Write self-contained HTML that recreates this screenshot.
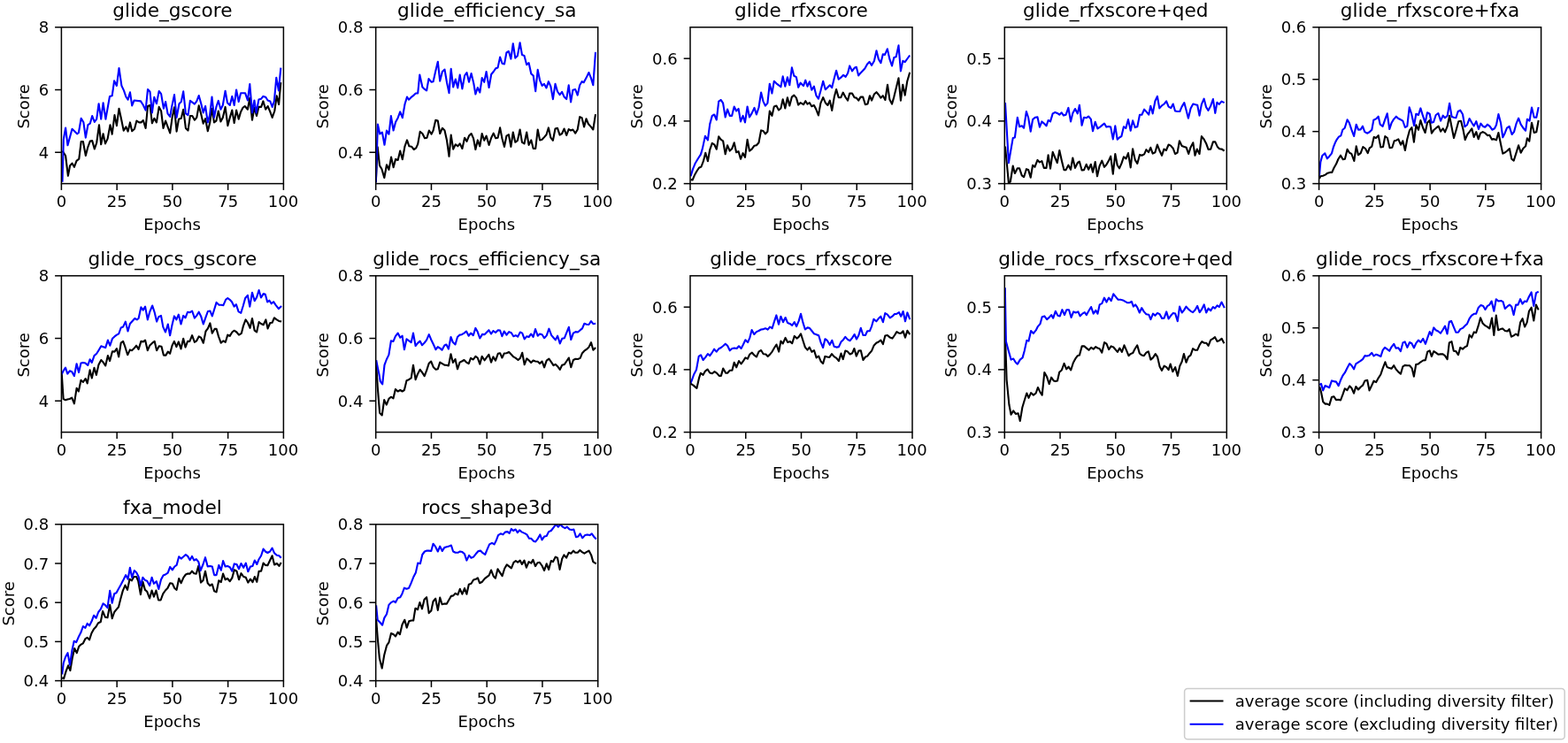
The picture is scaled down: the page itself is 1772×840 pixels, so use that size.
<!DOCTYPE html>
<html><head><meta charset="utf-8"><style>
html,body{margin:0;padding:0;background:#fff;}
body{width:1772px;height:840px;overflow:hidden;}
svg{display:block;font-family:"DejaVu Sans","Liberation Sans",sans-serif;fill:#000;}
</style></head><body>
<svg width="1772" height="840" viewBox="0 0 1772 840">
<rect width="1772" height="840" fill="#fff"/>
<clipPath id="c0"><rect x="69.40" y="30.80" width="251.00" height="176.80"/></clipPath>
<polyline clip-path="url(#c0)" points="70.5,170.7 74.1,176.2 76.9,198.8 79.1,187.3 81.5,184.6 83.9,188.8 86.5,181.8 89.3,179.6 91.7,160.0 93.9,160.0 96.8,175.9 99.4,166.1 101.8,159.6 104.2,159.1 106.8,168.5 109.2,161.5 112.0,141.2 114.2,163.3 116.6,151.3 119.0,162.4 121.6,156.9 124.5,141.2 126.7,151.7 129.5,130.1 131.9,142.1 134.5,122.7 137.3,135.7 139.7,147.6 142.4,143.4 144.6,148.6 147.0,138.4 149.2,148.2 152.0,145.8 154.4,136.6 157.2,138.4 159.4,138.4 161.8,136.0 164.6,144.9 167.0,120.0 169.5,119.0 171.9,139.3 174.3,133.8 176.9,138.4 179.7,120.9 182.1,125.5 184.5,144.9 187.1,136.6 192.2,150.4 194.6,132.9 197.0,121.3 199.6,148.6 202.0,134.7 204.8,133.8 207.2,123.7 209.9,144.9 212.5,147.6 214.9,131.0 217.3,131.0 219.9,135.7 222.3,132.9 224.7,119.4 227.3,129.2 229.7,139.7 232.1,134.2 234.8,148.2 237.1,139.3 239.5,122.7 242.0,138.4 244.4,136.6 246.8,125.5 249.4,137.5 251.8,132.9 254.6,120.9 257.4,142.1 259.8,132.9 262.3,124.6 264.7,139.0 267.1,124.6 269.7,134.7 272.1,126.4 274.5,121.8 276.7,120.0 279.9,123.7 282.3,110.7 285.0,135.7 287.4,121.8 290.0,131.0 292.4,120.9 295.2,120.9 297.4,114.4 300.2,123.7 302.6,120.0 305.3,126.4 307.7,132.9 310.3,125.5 312.7,108.3 315.1,118.1 317.3,93.2" fill="none" stroke="#000000" stroke-width="2.10" stroke-linejoin="round" stroke-linecap="butt"/>
<polyline clip-path="url(#c0)" points="70.5,205.8 71.8,157.8 74.1,144.5 76.5,164.3 81.5,145.8 87.1,151.3 88.9,150.0 91.7,133.8 94.4,138.4 96.8,155.6 99.4,141.2 101.8,139.7 104.2,131.0 106.8,137.9 109.2,134.7 111.6,117.2 114.2,134.7 116.6,116.3 119.4,134.7 124.0,108.9 126.7,108.3 129.1,91.4 131.9,96.9 134.5,77.0 137.4,96.9 140.0,102.4 142.4,109.5 144.6,112.6 147.0,104.3 149.2,119.4 151.6,113.5 159.0,114.4 161.8,118.7 164.6,124.6 167.0,101.0 169.5,103.7 171.9,127.4 174.3,109.8 176.9,117.2 179.7,103.0 182.1,106.1 184.9,122.7 187.1,115.0 189.5,128.3 192.2,132.0 194.1,120.9 197.0,107.1 199.6,132.9 202.5,117.2 204.8,115.0 207.2,103.4 209.9,128.3 212.5,130.1 214.9,113.9 217.3,115.7 219.9,117.6 222.3,114.4 224.7,108.0 227.3,117.2 229.7,127.4 232.1,120.0 234.8,138.4 237.1,130.1 239.5,109.5 242.0,132.9 244.4,120.9 246.8,113.9 249.4,123.7 251.8,119.0 254.6,102.8 257.0,116.3 259.8,119.0 262.3,108.9 264.7,119.0 267.1,101.5 269.7,115.0 272.1,105.2 274.9,105.2 277.1,105.2 279.9,113.5 282.3,95.1 285.0,127.4 287.4,113.5 289.6,127.4 292.4,112.6 295.2,111.7 297.4,108.9 300.2,109.8 302.6,113.5 305.3,114.4 307.7,120.9 309.9,114.4 312.3,87.7 314.9,102.4 317.3,76.6" fill="none" stroke="#0000ff" stroke-width="2.10" stroke-linejoin="round" stroke-linecap="butt"/>
<rect x="69.40" y="30.80" width="251.00" height="176.80" fill="none" stroke="#000" stroke-width="1.50" stroke-linejoin="miter"/>
<line x1="69.40" y1="207.60" x2="69.40" y2="214.90" stroke="#000" stroke-width="1.50"/>
<text x="63.69" y="234.20" font-size="18.0">0</text>
<line x1="132.15" y1="207.60" x2="132.15" y2="214.90" stroke="#000" stroke-width="1.50"/>
<text x="120.81" y="234.20" font-size="18.0">25</text>
<line x1="194.90" y1="207.60" x2="194.90" y2="214.90" stroke="#000" stroke-width="1.50"/>
<text x="183.38" y="234.20" font-size="18.0">50</text>
<line x1="257.65" y1="207.60" x2="257.65" y2="214.90" stroke="#000" stroke-width="1.50"/>
<text x="246.26" y="234.20" font-size="18.0">75</text>
<line x1="320.40" y1="207.60" x2="320.40" y2="214.90" stroke="#000" stroke-width="1.50"/>
<text x="302.80" y="234.20" font-size="18.0">100</text>
<line x1="62.10" y1="172.24" x2="69.40" y2="172.24" stroke="#000" stroke-width="1.50"/>
<text x="55.10" y="178.84" font-size="18.0" text-anchor="end">4</text>
<line x1="62.10" y1="101.52" x2="69.40" y2="101.52" stroke="#000" stroke-width="1.50"/>
<text x="55.10" y="108.12" font-size="18.0" text-anchor="end">6</text>
<line x1="62.10" y1="30.80" x2="69.40" y2="30.80" stroke="#000" stroke-width="1.50"/>
<text x="55.10" y="37.40" font-size="18.0" text-anchor="end">8</text>
<text x="194.55" y="260.00" font-size="18.0" text-anchor="middle">Epochs</text>
<text transform="translate(32.75,120.40) rotate(-90)" font-size="18.0" text-anchor="middle">Score</text>
<text x="194.90" y="18.60" font-size="21.6" text-anchor="middle">glide_gscore</text>
<clipPath id="c1"><rect x="424.70" y="30.80" width="251.00" height="176.80"/></clipPath>
<polyline clip-path="url(#c1)" points="424.8,206.2 426.7,166.2 429.0,187.1 431.4,191.0 434.3,201.0 437.0,186.2 439.5,191.9 442.1,177.6 444.6,189.1 447.1,179.9 449.7,180.9 452.2,170.6 454.8,180.3 457.5,165.3 460.0,158.4 462.4,165.3 465.1,165.7 467.7,169.0 470.2,167.4 472.2,162.9 474.7,148.9 477.4,151.0 480.0,156.3 482.5,155.7 484.9,147.5 487.6,151.6 489.6,147.5 492.3,135.8 494.8,136.6 497.2,151.0 499.9,144.8 502.5,147.5 505.0,158.8 507.5,176.8 509.7,152.6 512.2,168.6 514.8,163.3 517.3,165.3 519.7,162.4 522.4,168.0 525.1,155.7 527.5,159.8 530.0,153.6 532.6,151.0 535.1,156.7 537.4,169.0 539.8,158.4 542.3,165.3 544.7,151.0 547.2,158.8 549.6,153.6 552.6,163.9 555.2,155.7 557.7,150.6 560.2,156.3 562.6,155.7 565.1,144.4 567.5,156.7 570.0,165.9 572.4,153.6 574.9,152.2 577.4,165.9 579.8,149.5 582.3,160.8 584.9,158.8 587.6,146.5 590.0,160.8 592.5,162.4 595.2,149.5 597.6,163.9 600.3,158.4 602.7,168.0 605.2,168.0 607.7,146.5 610.1,158.4 612.6,157.7 615.0,155.1 617.5,152.2 619.9,144.4 622.4,155.7 624.9,158.8 627.5,145.5 630.0,144.8 632.6,152.6 635.1,151.0 637.6,145.5 640.2,153.0 642.7,146.1 645.1,147.5 647.4,146.5 650.2,150.6 652.7,146.5 655.2,132.1 657.6,133.2 660.1,143.4 662.5,134.2 665.0,140.3 667.9,143.4 670.3,146.5 673.0,129.1" fill="none" stroke="#000000" stroke-width="2.10" stroke-linejoin="round" stroke-linecap="butt"/>
<polyline clip-path="url(#c1)" points="424.8,206.2 426.9,140.5 429.3,151.4 431.9,149.5 434.5,163.8 437.0,147.5 439.5,151.6 441.9,131.1 444.6,147.5 447.1,137.9 449.7,133.2 452.2,126.4 454.8,133.2 457.5,117.8 460.0,109.6 462.0,112.7 465.1,109.6 467.7,107.6 469.8,105.5 472.2,105.5 474.3,84.6 477.4,98.4 480.0,101.0 482.1,102.5 484.5,89.1 487.6,92.8 489.6,92.2 492.1,81.0 494.8,69.7 497.2,91.6 499.9,81.0 502.5,78.5 505.0,93.2 507.5,105.1 509.7,77.9 512.2,98.4 514.8,89.6 517.3,99.4 519.7,84.6 522.4,100.4 525.1,85.5 527.5,82.0 530.0,92.8 532.6,83.0 535.3,94.3 537.4,106.5 539.8,99.0 542.3,104.5 544.7,88.1 547.2,92.8 549.6,81.0 552.6,99.0 555.2,84.0 557.7,81.0 560.2,77.3 562.6,76.4 565.1,64.6 567.5,71.7 570.0,72.4 572.4,59.5 574.9,58.0 577.4,66.6 579.8,49.2 582.3,65.6 584.9,62.9 587.6,48.2 590.0,62.1 592.5,62.9 595.2,73.2 597.6,71.1 600.3,83.4 602.7,85.5 605.2,103.1 607.7,78.9 610.1,90.8 612.6,96.9 615.0,94.9 617.5,99.4 619.9,92.2 622.4,97.7 624.9,112.1 627.5,94.9 630.0,103.5 632.6,107.2 635.1,103.9 637.6,109.6 640.2,112.1 642.7,96.3 645.1,115.4 647.4,101.8 650.2,101.0 652.7,107.6 655.2,96.3 657.6,92.2 659.7,93.2 662.5,88.1 665.4,82.0 667.9,88.1 670.3,96.3 673.0,58.8" fill="none" stroke="#0000ff" stroke-width="2.10" stroke-linejoin="round" stroke-linecap="butt"/>
<rect x="424.70" y="30.80" width="251.00" height="176.80" fill="none" stroke="#000" stroke-width="1.50" stroke-linejoin="miter"/>
<line x1="424.70" y1="207.60" x2="424.70" y2="214.90" stroke="#000" stroke-width="1.50"/>
<text x="418.99" y="234.20" font-size="18.0">0</text>
<line x1="487.45" y1="207.60" x2="487.45" y2="214.90" stroke="#000" stroke-width="1.50"/>
<text x="476.11" y="234.20" font-size="18.0">25</text>
<line x1="550.20" y1="207.60" x2="550.20" y2="214.90" stroke="#000" stroke-width="1.50"/>
<text x="538.68" y="234.20" font-size="18.0">50</text>
<line x1="612.95" y1="207.60" x2="612.95" y2="214.90" stroke="#000" stroke-width="1.50"/>
<text x="601.57" y="234.20" font-size="18.0">75</text>
<line x1="675.70" y1="207.60" x2="675.70" y2="214.90" stroke="#000" stroke-width="1.50"/>
<text x="658.11" y="234.20" font-size="18.0">100</text>
<line x1="417.40" y1="172.24" x2="424.70" y2="172.24" stroke="#000" stroke-width="1.50"/>
<text x="410.40" y="178.84" font-size="18.0" text-anchor="end">0.4</text>
<line x1="417.40" y1="101.52" x2="424.70" y2="101.52" stroke="#000" stroke-width="1.50"/>
<text x="410.40" y="108.12" font-size="18.0" text-anchor="end">0.6</text>
<line x1="417.40" y1="30.80" x2="424.70" y2="30.80" stroke="#000" stroke-width="1.50"/>
<text x="410.40" y="37.40" font-size="18.0" text-anchor="end">0.8</text>
<text x="549.85" y="260.00" font-size="18.0" text-anchor="middle">Epochs</text>
<text transform="translate(370.88,120.40) rotate(-90)" font-size="18.0" text-anchor="middle">Score</text>
<text x="550.20" y="18.60" font-size="21.6" text-anchor="middle">glide_efficiency_sa</text>
<clipPath id="c2"><rect x="780.00" y="30.80" width="251.00" height="176.80"/></clipPath>
<polyline clip-path="url(#c2)" points="780.6,203.1 782.6,203.5 784.9,198.1 787.3,193.7 789.9,189.7 792.5,188.5 794.9,182.2 797.3,172.8 799.9,182.2 802.2,169.3 804.8,161.9 807.2,163.3 809.8,168.7 812.2,154.3 814.8,157.9 817.1,159.3 819.7,174.2 822.1,164.3 824.7,170.6 827.1,168.3 829.7,161.3 832.1,172.2 834.6,171.2 837.0,179.8 839.6,173.2 842.0,177.8 844.6,157.9 847.0,170.6 849.6,168.7 852.5,164.7 854.9,164.3 857.5,161.3 860.1,147.4 862.5,148.0 864.9,151.4 867.4,148.8 869.8,125.5 872.4,130.9 874.8,120.5 877.4,119.6 880.0,124.5 882.4,122.5 884.7,112.2 887.3,122.5 889.9,110.2 892.3,119.6 894.9,109.6 897.3,107.6 899.9,110.6 902.2,118.6 904.6,116.2 908.0,118.2 910.3,114.2 912.5,117.6 914.9,116.2 917.3,120.2 919.9,119.0 922.5,124.1 924.9,130.5 927.4,116.6 930.2,110.2 932.8,116.2 935.4,119.0 937.8,113.6 940.2,124.9 942.8,109.6 945.1,101.1 947.7,110.2 950.3,110.2 952.7,104.6 955.3,109.6 958.1,113.6 960.2,105.6 963.0,105.6 965.6,110.2 967.8,110.6 970.2,113.6 972.6,109.6 975.2,109.6 977.9,118.2 980.5,117.6 982.9,108.2 985.1,113.6 987.9,106.6 990.5,104.2 992.9,107.0 995.4,110.6 997.8,108.2 1000.4,113.0 1003.0,95.7 1005.4,112.6 1008.0,117.6 1010.3,109.6 1012.7,99.7 1015.5,88.3 1017.9,113.6 1020.3,95.7 1022.7,107.6 1025.3,91.7 1028.2,81.8" fill="none" stroke="#000000" stroke-width="2.10" stroke-linejoin="round" stroke-linecap="butt"/>
<polyline clip-path="url(#c2)" points="780.6,199.1 783.0,191.1 785.9,184.2 788.9,179.2 791.9,174.6 793.9,167.9 796.9,153.9 799.9,158.3 802.2,140.4 804.8,130.9 807.2,129.5 809.8,135.5 812.2,114.6 814.8,113.0 817.1,116.6 819.7,132.5 822.1,123.5 824.7,130.9 827.1,130.9 829.7,120.5 832.1,125.5 834.6,122.9 837.0,137.4 839.6,130.9 842.0,138.4 844.6,120.5 847.0,132.5 849.6,128.1 852.5,121.9 854.9,129.5 857.5,121.5 860.1,104.6 862.5,114.6 864.9,119.6 867.4,116.6 869.8,94.7 872.4,105.6 874.8,91.7 877.4,94.3 880.0,96.3 882.4,98.3 884.7,86.4 887.3,97.7 889.9,87.3 892.3,96.3 894.9,76.4 897.3,85.8 899.9,87.1 902.2,98.7 904.6,93.7 908.0,97.1 910.3,90.7 912.5,97.7 914.9,92.3 917.3,101.7 919.9,97.7 922.5,108.2 924.9,111.6 927.4,102.7 930.2,91.7 932.8,101.3 935.4,98.7 937.8,96.3 940.2,99.1 942.8,88.3 945.1,79.8 947.7,89.7 950.3,87.7 953.1,84.8 955.7,86.8 958.1,82.8 960.2,74.4 963.0,80.4 965.6,76.8 967.8,75.8 970.2,85.4 972.6,82.4 975.2,79.8 977.5,77.2 980.1,72.4 982.5,69.9 985.1,73.8 987.9,68.9 990.5,57.3 992.9,66.9 995.4,71.2 997.8,61.3 1000.0,61.9 1002.8,55.3 1005.4,66.9 1008.0,74.4 1010.3,64.9 1012.7,64.3 1015.5,51.4 1017.9,80.4 1020.3,68.9 1022.7,70.2 1025.3,66.5 1028.2,62.5" fill="none" stroke="#0000ff" stroke-width="2.10" stroke-linejoin="round" stroke-linecap="butt"/>
<rect x="780.00" y="30.80" width="251.00" height="176.80" fill="none" stroke="#000" stroke-width="1.50" stroke-linejoin="miter"/>
<line x1="780.00" y1="207.60" x2="780.00" y2="214.90" stroke="#000" stroke-width="1.50"/>
<text x="774.28" y="234.20" font-size="18.0">0</text>
<line x1="842.75" y1="207.60" x2="842.75" y2="214.90" stroke="#000" stroke-width="1.50"/>
<text x="831.41" y="234.20" font-size="18.0">25</text>
<line x1="905.50" y1="207.60" x2="905.50" y2="214.90" stroke="#000" stroke-width="1.50"/>
<text x="893.98" y="234.20" font-size="18.0">50</text>
<line x1="968.25" y1="207.60" x2="968.25" y2="214.90" stroke="#000" stroke-width="1.50"/>
<text x="956.87" y="234.20" font-size="18.0">75</text>
<line x1="1031.00" y1="207.60" x2="1031.00" y2="214.90" stroke="#000" stroke-width="1.50"/>
<text x="1013.40" y="234.20" font-size="18.0">100</text>
<line x1="772.70" y1="207.60" x2="780.00" y2="207.60" stroke="#000" stroke-width="1.50"/>
<text x="765.70" y="214.20" font-size="18.0" text-anchor="end">0.2</text>
<line x1="772.70" y1="136.88" x2="780.00" y2="136.88" stroke="#000" stroke-width="1.50"/>
<text x="765.70" y="143.48" font-size="18.0" text-anchor="end">0.4</text>
<line x1="772.70" y1="66.16" x2="780.00" y2="66.16" stroke="#000" stroke-width="1.50"/>
<text x="765.70" y="72.76" font-size="18.0" text-anchor="end">0.6</text>
<text x="905.15" y="260.00" font-size="18.0" text-anchor="middle">Epochs</text>
<text transform="translate(726.18,120.40) rotate(-90)" font-size="18.0" text-anchor="middle">Score</text>
<text x="905.50" y="18.60" font-size="21.6" text-anchor="middle">glide_rfxscore</text>
<clipPath id="c3"><rect x="1135.30" y="30.80" width="251.00" height="176.80"/></clipPath>
<polyline clip-path="url(#c3)" points="1136.0,165.5 1139.9,206.9 1141.8,205.5 1144.7,187.6 1146.9,196.0 1149.8,190.2 1152.1,190.3 1154.8,198.4 1157.1,200.2 1159.9,191.2 1162.2,192.1 1164.7,200.8 1167.1,186.7 1169.4,188.8 1172.5,180.9 1174.9,183.4 1177.4,182.1 1179.8,189.9 1182.5,189.9 1184.6,175.4 1187.0,190.6 1189.7,171.8 1192.4,178.5 1194.8,184.0 1197.3,170.0 1199.7,180.9 1202.4,192.1 1204.6,192.1 1207.4,186.7 1210.0,191.7 1212.3,178.5 1215.0,189.9 1217.8,184.0 1219.9,182.7 1222.6,192.5 1225.0,192.1 1227.7,185.8 1230.1,191.7 1232.8,185.8 1235.0,194.8 1237.7,183.0 1240.0,199.3 1242.6,187.6 1245.3,181.6 1248.0,188.8 1250.3,186.3 1253.0,181.6 1255.2,176.7 1257.8,196.6 1260.3,174.0 1262.7,186.7 1265.0,190.3 1267.4,184.9 1269.9,177.3 1272.6,179.4 1275.0,173.1 1277.7,189.4 1280.1,168.2 1282.8,180.9 1285.3,184.9 1288.0,174.9 1290.4,175.8 1293.1,174.4 1295.4,169.1 1298.0,172.2 1300.3,166.8 1302.7,173.6 1305.4,172.2 1307.9,163.5 1310.3,170.0 1313.0,175.8 1315.4,168.6 1317.9,170.0 1320.6,163.5 1323.0,164.6 1325.7,167.7 1328.0,174.0 1330.6,172.6 1332.9,159.2 1335.6,165.0 1338.3,165.9 1340.7,166.8 1343.2,174.0 1345.6,166.4 1348.3,161.3 1350.5,175.8 1352.8,168.6 1355.5,174.0 1357.9,154.1 1360.6,157.4 1363.1,162.2 1365.5,168.9 1368.2,168.6 1370.9,160.4 1373.3,160.4 1375.8,165.9 1378.1,168.2 1380.9,168.6 1383.6,170.7" fill="none" stroke="#000000" stroke-width="2.10" stroke-linejoin="round" stroke-linecap="butt"/>
<polyline clip-path="url(#c3)" points="1136.0,116.1 1139.9,184.1 1144.7,156.1 1146.9,155.4 1149.8,132.8 1152.1,143.2 1154.8,142.3 1157.1,144.7 1159.9,126.0 1162.2,133.3 1164.7,148.7 1167.1,135.1 1169.8,132.7 1172.5,132.4 1174.9,143.6 1177.4,137.4 1179.8,139.6 1182.5,142.3 1184.6,136.0 1187.0,137.4 1189.7,128.4 1192.4,127.0 1194.8,127.9 1197.3,129.7 1199.7,127.3 1202.0,130.6 1204.6,129.7 1207.4,121.9 1210.0,137.4 1212.3,127.9 1215.0,123.0 1217.8,128.4 1219.9,118.8 1222.6,141.8 1225.0,132.7 1227.7,133.3 1230.1,131.5 1232.8,134.6 1235.0,148.3 1237.7,137.8 1240.4,145.4 1243.1,143.6 1245.8,141.4 1248.0,139.6 1250.3,143.6 1253.0,142.9 1255.2,143.6 1257.8,157.4 1260.3,142.3 1262.7,157.7 1265.0,155.5 1267.4,154.1 1269.9,143.2 1272.3,145.0 1275.0,135.1 1277.7,147.8 1280.1,136.4 1282.8,144.1 1285.3,143.2 1288.0,129.7 1290.4,129.7 1293.1,123.7 1295.8,126.6 1298.2,129.7 1300.3,119.7 1302.7,128.4 1305.4,114.3 1307.9,108.9 1310.3,122.4 1313.0,119.4 1315.7,117.5 1318.1,114.3 1320.6,120.6 1323.3,122.1 1325.7,117.5 1328.0,125.5 1330.6,126.0 1333.3,126.0 1335.6,120.6 1338.3,116.1 1340.7,125.1 1342.9,133.8 1345.6,122.4 1348.3,117.5 1351.0,118.3 1353.2,118.8 1355.5,130.6 1357.9,117.9 1360.6,111.6 1363.1,121.2 1365.5,124.8 1368.2,119.7 1370.9,112.1 1373.3,127.9 1375.4,115.7 1377.8,117.9 1380.5,114.6 1383.6,116.1" fill="none" stroke="#0000ff" stroke-width="2.10" stroke-linejoin="round" stroke-linecap="butt"/>
<rect x="1135.30" y="30.80" width="251.00" height="176.80" fill="none" stroke="#000" stroke-width="1.50" stroke-linejoin="miter"/>
<line x1="1135.30" y1="207.60" x2="1135.30" y2="214.90" stroke="#000" stroke-width="1.50"/>
<text x="1129.59" y="234.20" font-size="18.0">0</text>
<line x1="1198.05" y1="207.60" x2="1198.05" y2="214.90" stroke="#000" stroke-width="1.50"/>
<text x="1186.71" y="234.20" font-size="18.0">25</text>
<line x1="1260.80" y1="207.60" x2="1260.80" y2="214.90" stroke="#000" stroke-width="1.50"/>
<text x="1249.28" y="234.20" font-size="18.0">50</text>
<line x1="1323.55" y1="207.60" x2="1323.55" y2="214.90" stroke="#000" stroke-width="1.50"/>
<text x="1312.17" y="234.20" font-size="18.0">75</text>
<line x1="1386.30" y1="207.60" x2="1386.30" y2="214.90" stroke="#000" stroke-width="1.50"/>
<text x="1368.71" y="234.20" font-size="18.0">100</text>
<line x1="1128.00" y1="207.60" x2="1135.30" y2="207.60" stroke="#000" stroke-width="1.50"/>
<text x="1121.00" y="214.20" font-size="18.0" text-anchor="end">0.3</text>
<line x1="1128.00" y1="136.88" x2="1135.30" y2="136.88" stroke="#000" stroke-width="1.50"/>
<text x="1121.00" y="143.48" font-size="18.0" text-anchor="end">0.4</text>
<line x1="1128.00" y1="66.16" x2="1135.30" y2="66.16" stroke="#000" stroke-width="1.50"/>
<text x="1121.00" y="72.76" font-size="18.0" text-anchor="end">0.5</text>
<text x="1260.45" y="260.00" font-size="18.0" text-anchor="middle">Epochs</text>
<text transform="translate(1081.48,120.40) rotate(-90)" font-size="18.0" text-anchor="middle">Score</text>
<text x="1260.80" y="18.60" font-size="21.6" text-anchor="middle">glide_rfxscore+qed</text>
<clipPath id="c4"><rect x="1490.60" y="30.80" width="251.00" height="176.80"/></clipPath>
<polyline clip-path="url(#c4)" points="1491.0,202.0 1492.3,199.3 1495.0,198.7 1497.7,197.6 1500.3,195.7 1503.0,194.9 1505.3,194.9 1507.4,190.0 1510.1,185.3 1512.3,180.0 1515.0,175.7 1517.7,180.3 1519.9,179.7 1522.6,168.7 1525.0,172.7 1527.4,174.0 1530.3,182.0 1532.7,165.3 1535.0,175.3 1537.7,173.1 1540.3,166.0 1543.0,168.0 1545.7,173.1 1547.7,167.3 1550.3,165.6 1552.7,154.9 1555.0,156.0 1557.7,153.1 1560.3,166.4 1563.0,166.0 1565.3,154.0 1567.9,156.0 1570.6,167.3 1573.3,166.7 1575.7,159.3 1577.9,158.7 1580.3,157.3 1583.0,163.7 1585.3,159.3 1587.9,170.0 1590.3,157.3 1593.0,147.3 1595.4,144.0 1597.9,160.7 1600.3,141.3 1603.0,146.7 1605.4,136.0 1607.9,144.0 1610.6,150.0 1613.0,138.7 1615.7,136.0 1617.9,150.7 1620.6,146.7 1623.0,144.7 1625.7,142.7 1628.1,148.7 1630.7,145.3 1633.0,149.3 1635.7,142.7 1638.1,130.9 1640.6,144.0 1643.0,156.0 1645.7,146.7 1648.3,137.3 1651.0,136.7 1653.4,146.0 1655.7,158.0 1658.3,152.0 1661.0,148.7 1663.3,145.3 1665.7,154.9 1668.3,149.1 1670.7,157.3 1673.0,150.7 1675.7,149.1 1678.3,150.4 1681.0,153.1 1683.3,152.7 1685.9,157.6 1688.3,157.1 1691.0,158.4 1693.4,150.0 1696.1,163.3 1698.3,173.6 1701.0,172.3 1703.0,170.7 1705.9,168.0 1708.3,179.7 1710.7,181.6 1713.4,173.1 1716.1,164.3 1718.7,172.7 1721.4,167.7 1724.1,165.3 1725.9,156.3 1728.3,159.7 1731.0,138.7 1733.7,150.0 1736.3,149.3 1738.7,136.0" fill="none" stroke="#000000" stroke-width="2.10" stroke-linejoin="round" stroke-linecap="butt"/>
<polyline clip-path="url(#c4)" points="1491.0,198.7 1492.3,183.3 1494.3,176.0 1497.3,173.3 1499.9,179.3 1502.3,176.7 1505.0,173.3 1507.0,166.0 1509.0,161.1 1511.0,157.3 1513.0,154.7 1515.4,153.3 1517.3,146.7 1519.7,144.7 1522.6,135.3 1524.7,138.7 1527.4,146.7 1530.1,154.0 1532.7,140.7 1535.0,146.7 1537.7,146.4 1539.9,142.7 1542.3,149.1 1545.0,150.7 1547.7,149.3 1550.3,146.7 1552.3,135.7 1555.0,134.4 1557.7,131.7 1559.7,140.7 1562.6,142.9 1565.3,134.9 1567.7,128.3 1570.3,146.0 1572.7,138.7 1575.0,134.9 1577.9,131.7 1580.3,134.0 1583.0,135.3 1585.3,136.7 1587.9,144.0 1590.3,142.7 1592.7,121.3 1595.0,128.3 1598.1,142.0 1600.3,128.7 1603.0,130.0 1605.4,122.4 1607.9,130.7 1610.6,138.7 1613.0,127.3 1615.7,128.7 1617.7,138.7 1620.1,138.0 1622.7,130.0 1625.4,128.0 1628.1,136.7 1630.7,130.7 1633.0,133.3 1635.7,130.9 1638.1,116.7 1640.6,132.0 1643.0,132.7 1645.4,133.3 1647.7,126.0 1650.3,124.7 1653.0,129.3 1655.4,143.3 1657.9,141.3 1660.6,134.0 1663.3,138.7 1665.7,142.4 1668.3,137.1 1671.0,146.0 1673.4,139.7 1676.1,142.9 1678.3,143.7 1681.0,140.7 1683.7,142.9 1686.3,146.7 1689.0,145.3 1691.0,141.3 1693.4,129.1 1696.1,139.3 1698.3,155.3 1700.6,150.7 1703.0,144.7 1705.7,142.9 1708.6,152.0 1711.0,149.1 1713.7,139.3 1716.1,133.6 1718.7,140.7 1721.4,144.7 1724.1,147.7 1725.9,134.7 1728.6,136.7 1731.0,121.6 1733.7,132.7 1736.3,132.7 1738.7,121.1" fill="none" stroke="#0000ff" stroke-width="2.10" stroke-linejoin="round" stroke-linecap="butt"/>
<rect x="1490.60" y="30.80" width="251.00" height="176.80" fill="none" stroke="#000" stroke-width="1.50" stroke-linejoin="miter"/>
<line x1="1490.60" y1="207.60" x2="1490.60" y2="214.90" stroke="#000" stroke-width="1.50"/>
<text x="1484.89" y="234.20" font-size="18.0">0</text>
<line x1="1553.35" y1="207.60" x2="1553.35" y2="214.90" stroke="#000" stroke-width="1.50"/>
<text x="1542.01" y="234.20" font-size="18.0">25</text>
<line x1="1616.10" y1="207.60" x2="1616.10" y2="214.90" stroke="#000" stroke-width="1.50"/>
<text x="1604.58" y="234.20" font-size="18.0">50</text>
<line x1="1678.85" y1="207.60" x2="1678.85" y2="214.90" stroke="#000" stroke-width="1.50"/>
<text x="1667.47" y="234.20" font-size="18.0">75</text>
<line x1="1741.60" y1="207.60" x2="1741.60" y2="214.90" stroke="#000" stroke-width="1.50"/>
<text x="1724.01" y="234.20" font-size="18.0">100</text>
<line x1="1483.30" y1="207.60" x2="1490.60" y2="207.60" stroke="#000" stroke-width="1.50"/>
<text x="1476.30" y="214.20" font-size="18.0" text-anchor="end">0.3</text>
<line x1="1483.30" y1="148.67" x2="1490.60" y2="148.67" stroke="#000" stroke-width="1.50"/>
<text x="1476.30" y="155.27" font-size="18.0" text-anchor="end">0.4</text>
<line x1="1483.30" y1="89.73" x2="1490.60" y2="89.73" stroke="#000" stroke-width="1.50"/>
<text x="1476.30" y="96.33" font-size="18.0" text-anchor="end">0.5</text>
<line x1="1483.30" y1="30.80" x2="1490.60" y2="30.80" stroke="#000" stroke-width="1.50"/>
<text x="1476.30" y="37.40" font-size="18.0" text-anchor="end">0.6</text>
<text x="1615.75" y="260.00" font-size="18.0" text-anchor="middle">Epochs</text>
<text transform="translate(1436.78,120.40) rotate(-90)" font-size="18.0" text-anchor="middle">Score</text>
<text x="1616.10" y="18.60" font-size="21.6" text-anchor="middle">glide_rfxscore+fxa</text>
<clipPath id="c5"><rect x="69.40" y="311.80" width="251.00" height="176.80"/></clipPath>
<polyline clip-path="url(#c5)" points="69.8,423.0 71.6,451.0 74.0,452.3 76.3,451.5 78.8,451.0 81.2,449.7 83.9,456.4 86.6,438.9 88.8,442.5 91.5,429.8 93.9,432.0 96.6,428.0 98.7,433.4 101.6,418.4 103.8,427.5 106.5,415.7 108.9,423.9 111.4,412.5 114.3,407.0 116.5,409.4 119.2,413.5 121.9,402.1 124.1,408.1 127.0,397.3 129.5,397.6 131.9,394.0 134.2,403.4 136.7,387.7 139.1,385.9 141.4,392.2 144.2,401.2 146.9,395.4 149.0,396.2 151.8,393.6 154.1,390.7 156.6,394.9 159.4,385.9 161.7,386.4 164.1,384.6 166.8,396.2 169.3,390.4 172.2,387.7 174.7,385.9 177.1,396.2 179.8,391.3 182.5,391.8 184.9,401.6 187.4,401.6 189.8,397.6 192.1,399.8 194.6,390.4 196.9,385.9 199.4,392.2 201.8,386.4 204.5,394.4 207.2,382.8 209.5,392.6 212.1,385.9 214.4,385.9 217.1,379.2 219.9,386.8 222.2,385.3 224.7,380.4 227.1,381.7 229.8,387.7 232.5,374.5 234.9,371.4 237.4,365.4 239.8,376.8 242.5,371.9 244.6,371.9 247.0,380.4 249.7,387.7 252.4,385.3 254.8,386.8 257.3,378.6 259.7,379.9 262.4,375.5 264.6,373.7 267.4,375.5 270.0,378.6 272.9,376.8 275.0,368.3 277.6,361.4 280.1,365.0 282.6,370.8 285.0,360.0 287.7,373.7 290.1,375.5 292.6,364.1 295.0,366.0 297.7,367.2 300.4,361.4 302.6,371.4 305.3,365.0 307.6,364.7 310.0,359.3 312.7,361.4 315.2,362.9 318.1,363.6" fill="none" stroke="#000000" stroke-width="2.10" stroke-linejoin="round" stroke-linecap="butt"/>
<polyline clip-path="url(#c5)" points="69.8,423.0 71.6,419.3 74.0,415.7 76.3,422.6 78.8,419.3 81.2,420.2 83.9,425.1 86.6,411.2 89.0,421.1 91.5,410.6 93.9,409.9 96.6,410.6 99.3,413.0 101.6,406.3 103.8,409.9 106.5,402.1 109.2,399.8 111.4,396.2 114.3,391.3 116.8,392.2 119.2,393.1 121.9,384.6 124.3,390.7 127.0,382.8 129.5,380.4 131.9,378.6 134.2,377.4 136.7,370.5 139.1,369.6 141.8,363.6 144.5,374.5 146.9,366.0 149.4,363.2 152.3,360.0 154.8,361.4 156.6,360.0 159.4,347.3 161.7,350.6 164.1,346.6 166.8,361.4 169.3,352.4 172.2,345.5 174.7,353.3 177.1,363.6 179.3,358.2 182.0,356.9 184.3,369.6 187.0,375.5 189.8,366.5 192.1,379.2 194.6,366.9 196.9,357.4 199.4,361.4 201.8,355.6 204.5,366.5 207.2,356.9 209.5,359.3 212.1,352.7 214.4,353.3 217.1,351.5 219.9,359.6 222.2,356.9 224.7,352.7 227.1,357.4 229.8,366.5 232.5,358.7 234.9,352.0 237.4,351.5 239.8,357.4 242.5,348.8 244.6,341.9 247.5,344.8 250.1,344.8 252.4,345.1 255.1,338.8 257.3,337.0 259.7,338.8 262.0,341.2 264.6,346.6 266.9,344.2 269.6,352.4 272.3,353.8 274.7,346.0 277.2,337.0 279.9,333.9 282.3,346.6 285.0,330.7 287.7,340.1 290.1,336.1 292.6,328.0 295.0,336.5 297.7,332.1 299.8,332.8 302.2,341.5 304.4,339.7 306.7,343.3 309.1,341.2 311.6,344.8 314.9,349.1 318.1,346.0" fill="none" stroke="#0000ff" stroke-width="2.10" stroke-linejoin="round" stroke-linecap="butt"/>
<rect x="69.40" y="311.80" width="251.00" height="176.80" fill="none" stroke="#000" stroke-width="1.50" stroke-linejoin="miter"/>
<line x1="69.40" y1="488.60" x2="69.40" y2="495.90" stroke="#000" stroke-width="1.50"/>
<text x="63.69" y="515.20" font-size="18.0">0</text>
<line x1="132.15" y1="488.60" x2="132.15" y2="495.90" stroke="#000" stroke-width="1.50"/>
<text x="120.81" y="515.20" font-size="18.0">25</text>
<line x1="194.90" y1="488.60" x2="194.90" y2="495.90" stroke="#000" stroke-width="1.50"/>
<text x="183.38" y="515.20" font-size="18.0">50</text>
<line x1="257.65" y1="488.60" x2="257.65" y2="495.90" stroke="#000" stroke-width="1.50"/>
<text x="246.26" y="515.20" font-size="18.0">75</text>
<line x1="320.40" y1="488.60" x2="320.40" y2="495.90" stroke="#000" stroke-width="1.50"/>
<text x="302.80" y="515.20" font-size="18.0">100</text>
<line x1="62.10" y1="453.24" x2="69.40" y2="453.24" stroke="#000" stroke-width="1.50"/>
<text x="55.10" y="459.84" font-size="18.0" text-anchor="end">4</text>
<line x1="62.10" y1="382.52" x2="69.40" y2="382.52" stroke="#000" stroke-width="1.50"/>
<text x="55.10" y="389.12" font-size="18.0" text-anchor="end">6</text>
<line x1="62.10" y1="311.80" x2="69.40" y2="311.80" stroke="#000" stroke-width="1.50"/>
<text x="55.10" y="318.40" font-size="18.0" text-anchor="end">8</text>
<text x="194.55" y="541.00" font-size="18.0" text-anchor="middle">Epochs</text>
<text transform="translate(32.75,401.40) rotate(-90)" font-size="18.0" text-anchor="middle">Score</text>
<text x="194.90" y="299.60" font-size="21.6" text-anchor="middle">glide_rocs_gscore</text>
<clipPath id="c6"><rect x="424.70" y="311.80" width="251.00" height="176.80"/></clipPath>
<polyline clip-path="url(#c6)" points="425.2,411.9 426.7,436.7 429.1,466.8 431.7,469.5 434.2,452.1 436.8,457.6 439.4,450.9 441.9,448.7 444.5,450.3 446.9,440.1 449.6,442.5 452.3,441.0 454.6,442.5 456.9,441.0 459.5,430.2 462.0,429.2 464.7,427.4 467.0,412.7 469.6,429.2 472.1,422.7 474.7,417.8 477.0,420.9 479.7,425.1 482.1,418.9 484.8,410.7 487.1,408.5 489.9,415.3 492.5,417.8 494.8,417.3 497.2,409.6 499.8,411.1 502.3,412.7 504.4,412.7 506.9,413.5 509.5,400.3 511.9,410.0 514.5,406.0 517.0,417.3 519.6,409.6 521.9,408.5 524.5,407.0 527.0,409.6 529.7,411.1 532.0,404.9 534.8,406.5 537.4,402.9 539.7,404.5 542.3,411.6 544.7,402.9 547.5,407.3 552.4,400.8 555.1,409.6 557.4,403.4 560.0,407.6 562.8,399.8 565.1,399.2 567.4,404.5 569.8,399.5 572.5,399.2 575.2,398.0 577.8,400.8 580.3,403.4 582.9,404.9 585.5,407.0 587.9,404.9 590.2,398.8 592.7,412.2 595.3,405.4 597.6,407.3 600.2,410.0 602.6,407.6 605.0,408.5 607.7,408.8 610.0,411.1 612.6,408.5 615.1,415.3 617.7,407.6 620.4,405.7 623.2,409.6 625.5,413.1 627.8,411.9 630.1,414.2 632.8,417.8 635.2,412.7 637.9,411.9 640.2,408.5 642.8,404.5 645.3,415.3 647.9,407.0 650.5,405.7 653.0,406.0 655.7,404.9 658.0,399.2 660.3,396.7 662.9,394.9 665.4,392.6 668.0,387.1 670.4,395.7 673.1,393.0" fill="none" stroke="#000000" stroke-width="2.10" stroke-linejoin="round" stroke-linecap="butt"/>
<polyline clip-path="url(#c6)" points="425.2,407.3 426.7,415.0 428.3,422.4 429.8,431.2 432.2,434.3 434.5,412.7 436.8,406.5 439.4,401.1 441.9,385.3 444.5,385.9 446.9,380.2 449.6,376.6 452.3,381.7 454.6,379.7 456.9,395.2 459.5,383.3 462.3,385.3 464.7,387.1 467.0,376.6 469.6,391.0 472.1,387.9 474.7,385.6 477.0,390.2 479.7,387.5 482.1,384.4 484.8,378.2 487.1,383.7 489.9,389.5 492.5,395.2 494.8,392.1 497.2,393.6 499.5,395.7 502.3,390.5 504.4,389.5 506.9,394.6 509.5,381.0 511.9,387.1 514.5,389.5 517.0,381.0 519.6,378.6 521.9,378.2 524.5,376.6 527.0,374.5 529.7,379.7 532.0,376.6 534.8,379.1 537.4,370.9 539.7,375.1 542.3,382.5 545.1,377.9 547.5,378.2 552.4,373.2 555.1,377.5 557.4,374.0 560.0,376.0 562.8,373.2 565.1,373.5 567.4,380.2 569.8,374.5 572.5,378.6 575.2,375.1 577.8,376.3 580.3,380.2 582.9,379.1 585.2,380.6 587.9,375.5 590.2,376.6 592.7,383.3 595.3,380.2 597.6,381.0 600.2,377.5 602.6,381.0 605.0,372.0 607.7,379.7 610.0,377.5 612.6,378.2 615.1,382.2 617.7,379.4 620.4,371.7 623.2,379.1 625.5,381.7 627.8,384.4 630.1,379.7 632.8,388.4 635.2,382.8 637.9,382.2 640.2,376.3 642.8,369.8 645.3,384.0 647.9,376.6 650.5,375.1 653.0,375.5 655.7,373.2 658.0,371.4 660.3,365.8 662.9,366.7 665.4,367.0 668.0,363.2 670.4,366.2 673.1,365.8" fill="none" stroke="#0000ff" stroke-width="2.10" stroke-linejoin="round" stroke-linecap="butt"/>
<rect x="424.70" y="311.80" width="251.00" height="176.80" fill="none" stroke="#000" stroke-width="1.50" stroke-linejoin="miter"/>
<line x1="424.70" y1="488.60" x2="424.70" y2="495.90" stroke="#000" stroke-width="1.50"/>
<text x="418.99" y="515.20" font-size="18.0">0</text>
<line x1="487.45" y1="488.60" x2="487.45" y2="495.90" stroke="#000" stroke-width="1.50"/>
<text x="476.11" y="515.20" font-size="18.0">25</text>
<line x1="550.20" y1="488.60" x2="550.20" y2="495.90" stroke="#000" stroke-width="1.50"/>
<text x="538.68" y="515.20" font-size="18.0">50</text>
<line x1="612.95" y1="488.60" x2="612.95" y2="495.90" stroke="#000" stroke-width="1.50"/>
<text x="601.57" y="515.20" font-size="18.0">75</text>
<line x1="675.70" y1="488.60" x2="675.70" y2="495.90" stroke="#000" stroke-width="1.50"/>
<text x="658.11" y="515.20" font-size="18.0">100</text>
<line x1="417.40" y1="453.24" x2="424.70" y2="453.24" stroke="#000" stroke-width="1.50"/>
<text x="410.40" y="459.84" font-size="18.0" text-anchor="end">0.4</text>
<line x1="417.40" y1="382.52" x2="424.70" y2="382.52" stroke="#000" stroke-width="1.50"/>
<text x="410.40" y="389.12" font-size="18.0" text-anchor="end">0.6</text>
<line x1="417.40" y1="311.80" x2="424.70" y2="311.80" stroke="#000" stroke-width="1.50"/>
<text x="410.40" y="318.40" font-size="18.0" text-anchor="end">0.8</text>
<text x="549.85" y="541.00" font-size="18.0" text-anchor="middle">Epochs</text>
<text transform="translate(370.88,401.40) rotate(-90)" font-size="18.0" text-anchor="middle">Score</text>
<text x="550.20" y="299.60" font-size="21.6" text-anchor="middle">glide_rocs_efficiency_sa</text>
<clipPath id="c7"><rect x="780.00" y="311.80" width="251.00" height="176.80"/></clipPath>
<polyline clip-path="url(#c7)" points="780.5,433.6 783.5,435.6 787.4,438.9 790.1,427.1 791.8,421.8 794.6,423.8 797.0,419.6 799.6,417.5 802.2,421.5 804.9,422.2 807.5,420.1 810.1,421.8 812.7,424.9 814.9,424.9 817.2,416.6 820.2,421.8 822.1,421.8 824.8,418.8 827.4,418.8 829.7,409.7 832.2,415.3 835.0,408.1 837.6,411.4 839.8,408.4 842.4,404.4 844.8,405.7 847.3,400.5 849.9,398.7 852.3,401.5 854.9,403.5 857.5,397.6 860.1,396.0 862.7,400.2 865.4,400.5 867.7,402.9 869.9,400.9 872.6,397.6 875.2,393.0 877.5,389.5 880.2,397.6 882.4,385.6 884.7,388.5 887.6,381.9 890.2,386.9 892.9,386.1 895.2,388.2 897.8,379.9 900.5,382.6 902.7,380.9 905.0,377.3 907.5,385.2 909.9,392.6 912.5,395.7 914.8,392.6 917.4,397.9 920.0,396.0 922.6,404.4 925.2,402.6 927.6,408.4 930.1,411.0 932.4,402.9 935.0,403.5 937.4,403.9 940.0,400.2 942.6,403.1 945.3,404.8 947.9,408.1 950.5,399.6 952.7,406.1 955.3,396.6 958.0,397.6 960.6,400.5 963.2,399.2 965.4,394.0 967.8,402.6 970.4,396.6 972.8,396.3 975.4,407.0 978.0,403.5 980.2,402.6 982.8,399.2 985.1,396.6 987.7,390.4 990.3,387.8 992.9,386.5 995.3,384.5 997.9,389.1 1000.3,379.5 1002.9,379.0 1005.8,381.6 1008.4,382.6 1011.0,379.0 1013.4,375.1 1016.0,376.7 1018.2,376.7 1020.6,374.3 1023.0,381.6 1025.4,373.8 1028.3,378.2" fill="none" stroke="#000000" stroke-width="2.10" stroke-linejoin="round" stroke-linecap="butt"/>
<polyline clip-path="url(#c7)" points="780.5,433.0 782.2,429.0 784.2,423.2 787.0,417.9 789.7,402.9 792.0,401.3 794.6,407.0 797.3,403.9 799.9,400.0 802.2,402.2 804.9,398.3 807.1,394.7 809.7,397.6 812.3,394.3 814.9,393.0 817.6,390.8 819.8,388.7 822.1,390.8 824.8,396.3 827.4,394.0 830.0,393.4 832.6,394.0 835.0,391.3 837.6,394.0 839.8,389.8 842.4,384.3 845.1,387.1 847.4,381.6 849.6,373.0 852.3,378.0 854.9,375.1 857.5,374.0 860.1,372.5 862.7,372.1 865.1,371.2 867.6,372.7 870.2,369.5 872.6,371.2 875.2,362.9 877.4,356.4 880.0,366.8 882.4,357.7 885.0,364.2 887.6,359.0 890.0,364.9 892.6,365.9 895.2,367.8 897.8,364.2 900.1,369.1 902.7,362.9 905.0,354.7 907.5,364.9 909.9,372.5 912.5,370.4 914.8,370.8 917.4,374.0 920.0,377.3 922.6,378.2 925.2,379.3 927.6,387.1 930.1,393.0 932.4,383.2 935.0,385.2 937.7,389.8 940.3,384.8 942.6,391.7 945.3,392.6 947.9,392.1 950.5,386.5 953.1,383.9 955.3,380.9 958.0,383.9 960.6,385.2 963.2,381.9 965.6,378.0 968.0,383.5 970.4,379.0 972.8,370.8 975.4,379.0 978.0,379.0 980.2,374.3 982.8,374.3 985.1,368.8 987.4,360.7 990.3,363.3 992.7,360.3 995.3,357.7 997.9,364.2 1000.3,354.1 1002.9,355.7 1005.8,359.4 1008.4,357.7 1011.0,355.1 1013.6,354.7 1016.0,353.1 1018.2,357.7 1020.6,352.0 1023.0,363.3 1025.4,353.4 1028.3,361.2" fill="none" stroke="#0000ff" stroke-width="2.10" stroke-linejoin="round" stroke-linecap="butt"/>
<rect x="780.00" y="311.80" width="251.00" height="176.80" fill="none" stroke="#000" stroke-width="1.50" stroke-linejoin="miter"/>
<line x1="780.00" y1="488.60" x2="780.00" y2="495.90" stroke="#000" stroke-width="1.50"/>
<text x="774.28" y="515.20" font-size="18.0">0</text>
<line x1="842.75" y1="488.60" x2="842.75" y2="495.90" stroke="#000" stroke-width="1.50"/>
<text x="831.41" y="515.20" font-size="18.0">25</text>
<line x1="905.50" y1="488.60" x2="905.50" y2="495.90" stroke="#000" stroke-width="1.50"/>
<text x="893.98" y="515.20" font-size="18.0">50</text>
<line x1="968.25" y1="488.60" x2="968.25" y2="495.90" stroke="#000" stroke-width="1.50"/>
<text x="956.87" y="515.20" font-size="18.0">75</text>
<line x1="1031.00" y1="488.60" x2="1031.00" y2="495.90" stroke="#000" stroke-width="1.50"/>
<text x="1013.40" y="515.20" font-size="18.0">100</text>
<line x1="772.70" y1="488.60" x2="780.00" y2="488.60" stroke="#000" stroke-width="1.50"/>
<text x="765.70" y="495.20" font-size="18.0" text-anchor="end">0.2</text>
<line x1="772.70" y1="417.88" x2="780.00" y2="417.88" stroke="#000" stroke-width="1.50"/>
<text x="765.70" y="424.48" font-size="18.0" text-anchor="end">0.4</text>
<line x1="772.70" y1="347.16" x2="780.00" y2="347.16" stroke="#000" stroke-width="1.50"/>
<text x="765.70" y="353.76" font-size="18.0" text-anchor="end">0.6</text>
<text x="905.15" y="541.00" font-size="18.0" text-anchor="middle">Epochs</text>
<text transform="translate(726.18,401.40) rotate(-90)" font-size="18.0" text-anchor="middle">Score</text>
<text x="905.50" y="299.60" font-size="21.6" text-anchor="middle">glide_rocs_rfxscore</text>
<clipPath id="c8"><rect x="1135.30" y="311.80" width="251.00" height="176.80"/></clipPath>
<polyline clip-path="url(#c8)" points="1135.8,373.0 1137.6,429.3 1140.4,457.5 1142.6,468.8 1145.2,464.4 1147.8,467.9 1150.6,467.2 1152.8,475.9 1155.3,460.8 1157.7,452.7 1160.3,444.5 1162.5,449.9 1165.1,444.1 1167.9,446.7 1170.7,444.5 1172.9,438.0 1175.5,443.4 1177.7,446.7 1180.3,421.1 1183.1,426.1 1185.7,434.1 1188.1,426.7 1190.7,430.4 1192.8,431.1 1195.0,430.4 1197.2,420.7 1199.8,418.5 1202.6,410.9 1205.2,417.4 1207.6,414.6 1210.2,418.5 1212.8,410.3 1215.6,405.1 1217.8,402.2 1219.9,401.6 1222.7,391.4 1225.3,391.4 1227.9,393.6 1230.5,395.8 1233.1,392.9 1235.7,394.7 1238.3,392.1 1240.5,393.6 1242.7,394.2 1245.3,398.6 1248.1,387.1 1250.5,388.6 1253.1,395.1 1255.7,391.4 1258.3,392.5 1262.9,397.9 1265.3,393.6 1267.9,397.9 1270.5,390.3 1272.9,395.8 1275.5,402.2 1277.7,400.1 1280.3,399.0 1282.4,394.7 1285.2,390.3 1287.8,399.4 1290.2,401.6 1292.8,402.2 1295.4,398.6 1297.8,397.3 1300.4,406.6 1303.0,404.4 1305.8,400.1 1308.0,403.3 1310.6,414.6 1313.0,418.9 1315.6,413.7 1318.2,415.2 1320.6,418.1 1322.7,411.6 1325.3,420.2 1328.2,415.2 1330.8,425.0 1333.3,413.7 1335.7,408.8 1337.9,400.1 1340.5,409.8 1343.1,403.3 1345.5,401.6 1348.1,394.2 1350.7,395.8 1353.1,395.8 1355.7,389.9 1358.3,386.0 1360.7,387.7 1363.2,387.7 1365.6,390.8 1368.2,384.3 1370.8,382.8 1373.0,381.2 1375.6,386.0 1378.2,384.9 1380.6,382.8 1383.4,388.2" fill="none" stroke="#000000" stroke-width="2.10" stroke-linejoin="round" stroke-linecap="butt"/>
<polyline clip-path="url(#c8)" points="1135.8,325.3 1136.9,386.0 1139.8,396.8 1142.6,406.6 1145.2,405.5 1147.8,409.8 1149.9,411.6 1152.8,406.6 1155.6,404.4 1157.7,396.8 1160.3,384.9 1162.5,385.6 1165.1,374.1 1167.9,376.9 1170.7,373.4 1172.9,369.1 1175.5,366.1 1177.7,358.3 1180.3,357.4 1183.1,361.1 1185.7,358.9 1188.1,356.1 1190.2,359.6 1192.8,351.8 1195.4,356.8 1197.8,357.4 1200.4,350.2 1203.0,356.1 1205.4,350.2 1208.0,350.2 1210.6,358.9 1213.2,352.4 1215.8,353.5 1218.4,352.4 1220.6,357.4 1223.2,354.6 1225.8,353.1 1227.9,356.1 1230.5,351.3 1233.1,347.0 1235.7,354.6 1238.3,350.9 1240.5,354.6 1242.7,344.4 1245.3,343.1 1247.9,336.6 1250.5,341.6 1253.1,336.6 1255.7,340.1 1258.3,332.3 1263.6,338.8 1266.4,338.8 1269.0,339.4 1271.6,340.9 1273.8,342.2 1276.6,342.2 1278.8,340.9 1280.9,346.6 1283.1,344.4 1285.2,347.4 1287.8,353.5 1290.2,348.1 1292.8,352.4 1295.4,355.2 1298.2,355.7 1300.4,361.1 1303.0,354.6 1305.4,356.8 1308.0,353.9 1310.6,355.2 1313.2,360.0 1315.6,359.6 1318.2,352.4 1320.6,360.4 1323.2,356.8 1325.8,353.9 1328.2,354.6 1330.8,363.2 1333.1,346.6 1335.7,353.5 1337.9,350.9 1340.5,346.6 1343.1,349.6 1345.7,351.8 1348.1,353.1 1350.7,350.2 1353.1,345.9 1355.7,353.1 1357.8,350.2 1360.7,344.4 1363.2,353.5 1365.6,348.7 1368.2,351.3 1370.8,347.0 1373.0,348.7 1375.6,345.3 1377.8,347.0 1380.6,341.6 1383.8,348.1" fill="none" stroke="#0000ff" stroke-width="2.10" stroke-linejoin="round" stroke-linecap="butt"/>
<rect x="1135.30" y="311.80" width="251.00" height="176.80" fill="none" stroke="#000" stroke-width="1.50" stroke-linejoin="miter"/>
<line x1="1135.30" y1="488.60" x2="1135.30" y2="495.90" stroke="#000" stroke-width="1.50"/>
<text x="1129.59" y="515.20" font-size="18.0">0</text>
<line x1="1198.05" y1="488.60" x2="1198.05" y2="495.90" stroke="#000" stroke-width="1.50"/>
<text x="1186.71" y="515.20" font-size="18.0">25</text>
<line x1="1260.80" y1="488.60" x2="1260.80" y2="495.90" stroke="#000" stroke-width="1.50"/>
<text x="1249.28" y="515.20" font-size="18.0">50</text>
<line x1="1323.55" y1="488.60" x2="1323.55" y2="495.90" stroke="#000" stroke-width="1.50"/>
<text x="1312.17" y="515.20" font-size="18.0">75</text>
<line x1="1386.30" y1="488.60" x2="1386.30" y2="495.90" stroke="#000" stroke-width="1.50"/>
<text x="1368.71" y="515.20" font-size="18.0">100</text>
<line x1="1128.00" y1="488.60" x2="1135.30" y2="488.60" stroke="#000" stroke-width="1.50"/>
<text x="1121.00" y="495.20" font-size="18.0" text-anchor="end">0.3</text>
<line x1="1128.00" y1="417.88" x2="1135.30" y2="417.88" stroke="#000" stroke-width="1.50"/>
<text x="1121.00" y="424.48" font-size="18.0" text-anchor="end">0.4</text>
<line x1="1128.00" y1="347.16" x2="1135.30" y2="347.16" stroke="#000" stroke-width="1.50"/>
<text x="1121.00" y="353.76" font-size="18.0" text-anchor="end">0.5</text>
<text x="1260.45" y="541.00" font-size="18.0" text-anchor="middle">Epochs</text>
<text transform="translate(1081.48,401.40) rotate(-90)" font-size="18.0" text-anchor="middle">Score</text>
<text x="1260.80" y="299.60" font-size="21.6" text-anchor="middle">glide_rocs_rfxscore+qed</text>
<clipPath id="c9"><rect x="1490.60" y="311.80" width="251.00" height="176.80"/></clipPath>
<polyline clip-path="url(#c9)" points="1491.2,437.0 1493.0,443.2 1495.2,454.3 1497.5,456.6 1499.8,456.6 1502.3,457.9 1505.0,448.9 1507.3,448.2 1510.0,452.1 1512.7,451.8 1515.0,452.5 1517.5,445.9 1519.8,439.3 1522.5,441.1 1525.2,436.4 1527.5,438.8 1530.0,444.6 1532.3,437.0 1535.0,440.5 1537.7,437.5 1540.0,435.7 1542.5,430.4 1545.2,429.8 1547.5,441.4 1550.2,435.7 1552.5,430.7 1555.2,432.1 1557.9,427.1 1560.4,423.2 1562.7,416.4 1565.4,409.3 1567.5,415.0 1570.2,416.1 1572.5,416.8 1575.2,413.2 1577.5,417.3 1580.2,420.4 1582.9,422.7 1585.4,414.3 1587.7,412.9 1590.4,413.2 1593.0,413.2 1595.7,416.4 1597.9,425.7 1600.2,412.0 1602.9,411.4 1605.5,409.3 1608.2,407.5 1610.9,407.1 1613.2,397.7 1615.7,396.4 1617.8,403.0 1620.3,397.1 1622.6,398.6 1625.3,400.7 1628.0,400.4 1630.6,400.4 1633.0,402.1 1635.6,406.1 1637.8,387.5 1640.5,386.1 1642.8,396.8 1645.3,397.1 1648.0,401.2 1650.3,392.9 1653.0,394.6 1655.6,392.3 1658.0,391.1 1660.6,378.6 1663.1,381.6 1665.8,375.4 1668.1,376.2 1670.8,367.9 1673.1,359.3 1675.6,365.5 1678.5,368.2 1681.0,369.6 1683.3,371.4 1686.0,359.6 1688.3,378.9 1690.8,356.6 1693.1,373.2 1695.8,372.1 1698.1,371.4 1700.8,373.9 1703.5,374.5 1705.6,372.1 1708.0,380.7 1710.6,379.3 1713.1,377.5 1715.6,379.3 1718.1,364.6 1720.6,360.2 1723.1,369.6 1725.6,364.6 1728.0,351.8 1730.6,347.7 1733.3,362.5 1736.0,344.6 1738.7,350.4" fill="none" stroke="#000000" stroke-width="2.10" stroke-linejoin="round" stroke-linecap="butt"/>
<polyline clip-path="url(#c9)" points="1491.2,435.2 1493.0,433.9 1495.2,441.4 1497.5,436.1 1499.8,437.0 1502.3,438.2 1505.0,430.4 1507.3,431.1 1510.0,431.6 1512.7,436.1 1515.0,429.8 1517.5,424.5 1519.8,421.4 1522.5,416.1 1525.2,411.1 1527.5,413.2 1530.0,417.3 1532.3,411.4 1535.0,409.6 1537.7,407.9 1540.0,406.1 1542.5,402.1 1544.8,402.5 1547.5,401.8 1550.2,398.9 1552.5,402.5 1555.2,400.7 1557.9,401.8 1560.4,403.0 1562.7,395.9 1565.0,392.9 1567.5,394.6 1570.2,396.8 1572.5,392.3 1575.2,388.8 1577.5,393.6 1580.2,393.2 1582.9,397.1 1585.4,387.5 1587.7,386.4 1590.4,392.9 1593.0,387.0 1595.4,388.2 1597.9,393.2 1600.2,388.2 1602.9,384.6 1605.5,387.0 1608.2,382.9 1610.9,388.8 1613.2,382.1 1615.7,375.0 1617.8,378.9 1620.3,370.4 1622.6,373.2 1625.3,374.5 1628.0,376.8 1630.6,372.7 1633.0,368.6 1635.5,377.5 1637.8,363.8 1640.1,362.9 1642.8,369.6 1645.3,375.7 1648.0,375.7 1650.3,372.1 1653.0,370.9 1655.6,368.2 1658.0,366.1 1660.6,360.2 1663.1,356.6 1665.8,354.8 1668.1,354.8 1670.8,347.7 1673.5,345.0 1676.2,345.9 1678.5,350.0 1681.0,345.9 1683.3,344.6 1685.6,340.5 1688.3,351.8 1690.8,338.2 1693.5,340.5 1696.2,340.0 1698.5,341.1 1700.8,348.9 1703.5,346.4 1706.0,344.6 1708.3,346.8 1710.6,356.1 1713.1,344.6 1715.5,344.6 1718.1,338.2 1720.5,343.6 1723.0,340.5 1725.3,341.1 1728.0,335.2 1730.6,330.4 1733.3,345.9 1736.0,331.1 1738.7,329.8" fill="none" stroke="#0000ff" stroke-width="2.10" stroke-linejoin="round" stroke-linecap="butt"/>
<rect x="1490.60" y="311.80" width="251.00" height="176.80" fill="none" stroke="#000" stroke-width="1.50" stroke-linejoin="miter"/>
<line x1="1490.60" y1="488.60" x2="1490.60" y2="495.90" stroke="#000" stroke-width="1.50"/>
<text x="1484.89" y="515.20" font-size="18.0">0</text>
<line x1="1553.35" y1="488.60" x2="1553.35" y2="495.90" stroke="#000" stroke-width="1.50"/>
<text x="1542.01" y="515.20" font-size="18.0">25</text>
<line x1="1616.10" y1="488.60" x2="1616.10" y2="495.90" stroke="#000" stroke-width="1.50"/>
<text x="1604.58" y="515.20" font-size="18.0">50</text>
<line x1="1678.85" y1="488.60" x2="1678.85" y2="495.90" stroke="#000" stroke-width="1.50"/>
<text x="1667.47" y="515.20" font-size="18.0">75</text>
<line x1="1741.60" y1="488.60" x2="1741.60" y2="495.90" stroke="#000" stroke-width="1.50"/>
<text x="1724.01" y="515.20" font-size="18.0">100</text>
<line x1="1483.30" y1="488.60" x2="1490.60" y2="488.60" stroke="#000" stroke-width="1.50"/>
<text x="1476.30" y="495.20" font-size="18.0" text-anchor="end">0.3</text>
<line x1="1483.30" y1="429.67" x2="1490.60" y2="429.67" stroke="#000" stroke-width="1.50"/>
<text x="1476.30" y="436.27" font-size="18.0" text-anchor="end">0.4</text>
<line x1="1483.30" y1="370.73" x2="1490.60" y2="370.73" stroke="#000" stroke-width="1.50"/>
<text x="1476.30" y="377.33" font-size="18.0" text-anchor="end">0.5</text>
<line x1="1483.30" y1="311.80" x2="1490.60" y2="311.80" stroke="#000" stroke-width="1.50"/>
<text x="1476.30" y="318.40" font-size="18.0" text-anchor="end">0.6</text>
<text x="1615.75" y="541.00" font-size="18.0" text-anchor="middle">Epochs</text>
<text transform="translate(1436.78,401.40) rotate(-90)" font-size="18.0" text-anchor="middle">Score</text>
<text x="1616.10" y="299.60" font-size="21.6" text-anchor="middle">glide_rocs_rfxscore+fxa</text>
<clipPath id="c10"><rect x="69.40" y="592.80" width="251.00" height="176.80"/></clipPath>
<polyline clip-path="url(#c10)" points="70.2,766.2 72.1,767.2 74.6,758.9 77.1,752.3 79.4,758.1 81.7,744.0 84.2,733.0 86.8,738.2 89.1,731.1 91.6,728.6 93.9,727.3 96.4,722.2 98.7,720.9 101.0,723.4 103.5,715.7 106.0,711.2 108.4,708.7 110.9,704.5 113.8,703.0 116.1,691.0 119.0,697.8 121.5,698.3 124.2,683.7 126.7,699.1 129.2,692.0 131.5,689.1 134.0,686.2 136.3,677.1 138.8,667.9 141.5,661.7 144.0,666.9 146.5,654.7 148.9,656.3 151.4,652.0 154.1,652.0 156.2,656.7 158.9,672.1 161.4,657.8 163.9,666.9 166.2,668.8 169.1,676.5 171.6,667.5 173.9,674.6 176.4,667.5 179.1,678.5 181.6,678.5 184.2,671.3 186.9,667.5 189.4,665.0 192.2,659.2 194.8,659.8 197.3,665.0 199.6,666.9 202.2,654.0 204.7,659.2 207.4,652.8 209.9,649.5 212.2,648.6 214.7,648.6 217.0,645.7 219.3,648.2 221.8,648.6 224.3,639.9 227.0,658.6 229.5,656.3 232.0,645.7 234.7,659.2 237.2,662.1 239.8,660.5 242.1,668.2 244.6,669.4 247.3,656.3 249.8,658.2 252.1,648.6 254.6,655.3 257.1,654.0 259.8,657.2 262.3,653.4 264.8,644.3 267.5,645.7 270.0,655.3 272.5,648.2 275.2,652.0 277.8,652.8 280.3,658.6 283.0,654.7 285.5,658.2 287.8,652.0 290.3,657.8 292.6,645.7 295.1,645.7 297.6,636.6 299.9,638.9 302.4,639.3 305.1,633.5 307.6,628.3 310.1,638.5 312.9,637.0 315.4,639.9 317.7,636.0" fill="none" stroke="#000000" stroke-width="2.10" stroke-linejoin="round" stroke-linecap="butt"/>
<polyline clip-path="url(#c10)" points="70.2,762.4 71.7,749.8 74.0,742.7 76.5,738.2 79.0,751.8 81.4,735.4 83.7,724.8 86.2,726.1 88.7,720.3 91.4,715.1 93.9,708.0 96.4,709.9 98.7,704.9 101.0,707.4 103.5,702.6 106.0,695.8 108.7,698.7 111.2,692.0 113.8,688.7 116.5,682.3 119.0,684.2 121.5,687.1 124.2,667.9 126.7,681.7 129.2,671.3 131.5,670.2 133.8,665.9 136.9,660.5 139.6,655.3 142.1,650.1 144.6,654.7 146.9,641.8 149.2,652.8 151.8,645.1 154.3,647.6 156.6,652.0 158.9,662.1 161.4,652.8 163.9,655.9 166.2,656.7 169.1,662.1 171.6,652.8 173.9,659.8 176.8,657.2 179.3,665.9 182.0,655.3 184.5,650.5 187.0,649.5 189.7,647.6 192.2,640.9 194.8,644.3 197.3,640.5 199.6,638.9 202.2,629.3 204.7,631.6 207.4,629.3 209.9,627.0 212.2,628.9 214.7,633.1 217.0,628.9 219.3,633.5 221.8,632.2 224.3,635.1 226.6,645.1 229.5,638.0 232.0,630.2 234.7,640.5 237.2,639.9 239.8,640.5 242.1,650.1 244.6,650.1 247.3,638.9 249.8,644.7 252.1,634.1 254.6,640.5 257.1,639.9 259.8,641.2 262.3,645.7 264.8,637.4 267.5,638.0 270.0,643.2 272.5,637.0 275.2,641.8 277.8,636.6 280.3,646.3 283.0,640.5 285.5,639.9 287.8,633.5 290.3,638.0 292.6,632.2 295.1,628.3 297.6,620.6 299.9,623.5 302.4,625.0 305.1,623.5 307.6,619.6 310.1,625.4 312.9,627.7 315.4,628.3 317.7,630.8" fill="none" stroke="#0000ff" stroke-width="2.10" stroke-linejoin="round" stroke-linecap="butt"/>
<rect x="69.40" y="592.80" width="251.00" height="176.80" fill="none" stroke="#000" stroke-width="1.50" stroke-linejoin="miter"/>
<line x1="69.40" y1="769.60" x2="69.40" y2="776.90" stroke="#000" stroke-width="1.50"/>
<text x="63.69" y="796.20" font-size="18.0">0</text>
<line x1="132.15" y1="769.60" x2="132.15" y2="776.90" stroke="#000" stroke-width="1.50"/>
<text x="120.81" y="796.20" font-size="18.0">25</text>
<line x1="194.90" y1="769.60" x2="194.90" y2="776.90" stroke="#000" stroke-width="1.50"/>
<text x="183.38" y="796.20" font-size="18.0">50</text>
<line x1="257.65" y1="769.60" x2="257.65" y2="776.90" stroke="#000" stroke-width="1.50"/>
<text x="246.26" y="796.20" font-size="18.0">75</text>
<line x1="320.40" y1="769.60" x2="320.40" y2="776.90" stroke="#000" stroke-width="1.50"/>
<text x="302.80" y="796.20" font-size="18.0">100</text>
<line x1="62.10" y1="769.60" x2="69.40" y2="769.60" stroke="#000" stroke-width="1.50"/>
<text x="55.10" y="776.20" font-size="18.0" text-anchor="end">0.4</text>
<line x1="62.10" y1="725.40" x2="69.40" y2="725.40" stroke="#000" stroke-width="1.50"/>
<text x="55.10" y="732.00" font-size="18.0" text-anchor="end">0.5</text>
<line x1="62.10" y1="681.20" x2="69.40" y2="681.20" stroke="#000" stroke-width="1.50"/>
<text x="55.10" y="687.80" font-size="18.0" text-anchor="end">0.6</text>
<line x1="62.10" y1="637.00" x2="69.40" y2="637.00" stroke="#000" stroke-width="1.50"/>
<text x="55.10" y="643.60" font-size="18.0" text-anchor="end">0.7</text>
<line x1="62.10" y1="592.80" x2="69.40" y2="592.80" stroke="#000" stroke-width="1.50"/>
<text x="55.10" y="599.40" font-size="18.0" text-anchor="end">0.8</text>
<text x="194.55" y="822.00" font-size="18.0" text-anchor="middle">Epochs</text>
<text transform="translate(15.58,682.40) rotate(-90)" font-size="18.0" text-anchor="middle">Score</text>
<text x="194.90" y="580.60" font-size="21.6" text-anchor="middle">fxa_model</text>
<clipPath id="c11"><rect x="424.70" y="592.80" width="251.00" height="176.80"/></clipPath>
<polyline clip-path="url(#c11)" points="425.1,699.7 426.7,720.5 428.9,744.6 431.7,755.6 434.3,740.2 437.0,729.9 439.4,726.4 442.0,716.1 444.8,717.2 447.0,719.4 449.7,714.6 451.9,717.2 454.5,706.3 457.3,700.8 459.7,709.6 462.2,702.3 465.0,701.5 467.2,701.5 469.4,687.7 472.0,689.2 474.4,681.1 477.0,688.3 479.5,677.8 482.1,675.2 484.7,693.1 487.3,690.5 489.5,680.0 492.2,676.7 494.8,689.9 497.2,675.6 499.6,683.3 502.2,682.6 504.9,682.6 507.3,678.2 509.9,673.9 512.3,673.4 514.7,670.8 517.4,672.3 519.8,665.8 522.4,671.7 525.0,665.1 527.4,671.7 529.8,660.7 532.5,659.8 535.1,655.5 537.7,654.8 539.9,653.3 542.1,659.2 545.0,657.7 547.8,654.2 552.7,650.4 555.1,644.5 557.7,651.5 559.9,653.7 562.5,643.2 565.2,647.6 567.6,651.1 570.2,642.8 572.8,638.4 575.7,640.6 577.9,642.3 580.5,635.8 582.9,634.0 585.1,635.8 587.7,633.6 589.9,637.9 592.5,633.6 594.9,641.7 597.6,635.1 600.2,636.6 602.4,632.9 605.0,640.1 607.4,636.2 609.8,635.8 612.5,639.5 615.1,645.0 617.7,637.3 620.1,643.9 622.8,634.0 625.0,635.1 627.8,629.6 630.0,630.7 632.6,643.9 635.2,631.8 637.4,627.4 640.1,630.7 642.7,624.8 645.3,625.7 648.0,622.6 650.1,624.8 652.8,624.8 655.4,622.0 657.8,624.1 660.4,625.7 662.8,624.1 665.5,622.6 668.1,627.4 670.3,635.1 673.8,637.3" fill="none" stroke="#000000" stroke-width="2.10" stroke-linejoin="round" stroke-linecap="butt"/>
<polyline clip-path="url(#c11)" points="425.1,684.4 426.7,700.8 429.5,703.7 432.1,706.7 434.3,698.6 437.0,694.2 439.4,683.9 442.0,681.1 444.8,679.6 447.0,681.1 449.7,676.1 452.3,675.2 454.5,671.2 456.9,664.7 459.5,665.8 461.9,665.1 464.6,659.2 467.2,652.6 469.8,647.6 472.2,636.6 474.9,637.3 477.3,627.0 479.9,623.5 482.5,622.6 484.7,622.6 487.3,623.0 489.5,614.7 492.2,618.2 494.8,623.5 497.2,617.6 499.8,623.0 502.2,619.1 504.9,618.2 507.5,617.6 509.9,616.5 512.1,623.5 514.7,624.8 517.4,624.8 519.8,623.5 522.4,624.1 525.0,626.3 527.4,633.6 530.1,627.9 532.5,630.7 535.1,629.6 537.7,626.3 540.6,623.0 543.0,622.6 545.6,625.2 548.2,627.0 550.5,621.3 553.1,615.4 556.0,613.8 558.6,615.4 560.8,611.0 563.0,605.1 565.8,603.3 568.4,604.4 570.8,601.6 573.5,601.1 575.7,602.9 577.9,597.9 580.0,600.0 582.7,598.5 584.9,602.2 587.1,599.4 589.9,601.6 592.8,602.9 595.4,604.4 598.0,608.8 600.2,608.8 603.0,611.7 605.2,612.5 607.9,608.8 610.3,604.4 612.5,610.3 615.1,606.6 617.7,606.0 620.1,601.1 622.8,600.0 625.6,596.3 628.2,592.8 630.9,595.7 633.3,592.8 635.9,595.7 638.5,597.2 640.9,595.7 643.6,598.5 646.2,599.0 648.4,598.5 651.0,607.3 653.4,606.6 655.6,603.3 658.2,608.2 661.1,605.1 663.7,604.4 666.6,605.1 668.8,603.3 671.6,607.3 673.8,609.5" fill="none" stroke="#0000ff" stroke-width="2.10" stroke-linejoin="round" stroke-linecap="butt"/>
<rect x="424.70" y="592.80" width="251.00" height="176.80" fill="none" stroke="#000" stroke-width="1.50" stroke-linejoin="miter"/>
<line x1="424.70" y1="769.60" x2="424.70" y2="776.90" stroke="#000" stroke-width="1.50"/>
<text x="418.99" y="796.20" font-size="18.0">0</text>
<line x1="487.45" y1="769.60" x2="487.45" y2="776.90" stroke="#000" stroke-width="1.50"/>
<text x="476.11" y="796.20" font-size="18.0">25</text>
<line x1="550.20" y1="769.60" x2="550.20" y2="776.90" stroke="#000" stroke-width="1.50"/>
<text x="538.68" y="796.20" font-size="18.0">50</text>
<line x1="612.95" y1="769.60" x2="612.95" y2="776.90" stroke="#000" stroke-width="1.50"/>
<text x="601.57" y="796.20" font-size="18.0">75</text>
<line x1="675.70" y1="769.60" x2="675.70" y2="776.90" stroke="#000" stroke-width="1.50"/>
<text x="658.11" y="796.20" font-size="18.0">100</text>
<line x1="417.40" y1="769.60" x2="424.70" y2="769.60" stroke="#000" stroke-width="1.50"/>
<text x="410.40" y="776.20" font-size="18.0" text-anchor="end">0.4</text>
<line x1="417.40" y1="725.40" x2="424.70" y2="725.40" stroke="#000" stroke-width="1.50"/>
<text x="410.40" y="732.00" font-size="18.0" text-anchor="end">0.5</text>
<line x1="417.40" y1="681.20" x2="424.70" y2="681.20" stroke="#000" stroke-width="1.50"/>
<text x="410.40" y="687.80" font-size="18.0" text-anchor="end">0.6</text>
<line x1="417.40" y1="637.00" x2="424.70" y2="637.00" stroke="#000" stroke-width="1.50"/>
<text x="410.40" y="643.60" font-size="18.0" text-anchor="end">0.7</text>
<line x1="417.40" y1="592.80" x2="424.70" y2="592.80" stroke="#000" stroke-width="1.50"/>
<text x="410.40" y="599.40" font-size="18.0" text-anchor="end">0.8</text>
<text x="549.85" y="822.00" font-size="18.0" text-anchor="middle">Epochs</text>
<text transform="translate(370.88,682.40) rotate(-90)" font-size="18.0" text-anchor="middle">Score</text>
<text x="550.20" y="580.60" font-size="21.6" text-anchor="middle">rocs_shape3d</text>
<rect x="1338.6" y="778.6" width="429.6" height="57.2" rx="3.5" ry="3.5" fill="#fff" fill-opacity="0.8" stroke="#cccccc" stroke-width="1.5"/>
<line x1="1344.6" y1="792.5" x2="1382.5" y2="792.5" stroke="#000" stroke-width="2.10" stroke-linecap="butt"/>
<line x1="1344.6" y1="818.8" x2="1382.5" y2="818.8" stroke="#0000ff" stroke-width="2.10" stroke-linecap="butt"/>
<text x="1395.8" y="798.9" font-size="18.0">average score (including diversity filter)</text>
<text x="1395.8" y="825.4" font-size="18.0">average score (excluding diversity filter)</text>
</svg>
</body></html>
